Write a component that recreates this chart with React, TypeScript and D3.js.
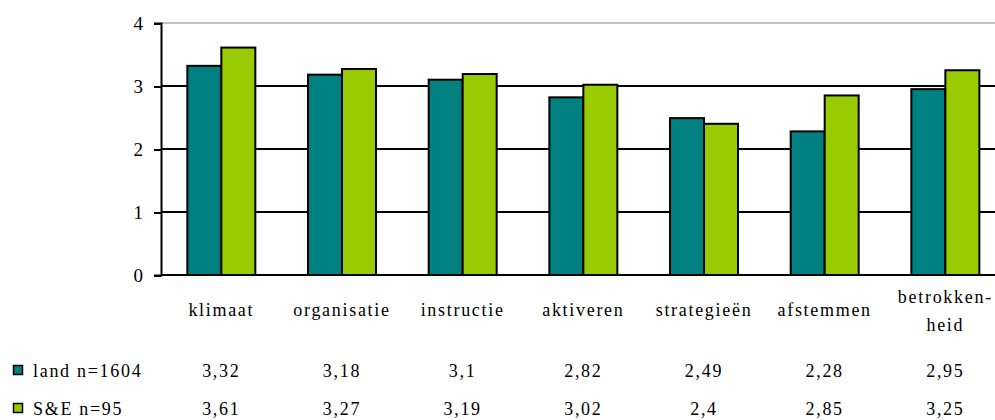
import React, { useEffect, useRef } from 'react';
import * as d3 from 'd3';

const categories = [
  'klimaat',
  'organisatie',
  'instructie',
  'aktiveren',
  'strategieën',
  'afstemmen',
  'betrokken-|heid',
];
const seriesNames = ['land n=1604', 'S&E n=95'];
const landValues = [3.32, 3.18, 3.1, 2.82, 2.49, 2.28, 2.95];
const seValues = [3.61, 3.27, 3.19, 3.02, 2.4, 2.85, 3.25];
const landLabels = ['3,32', '3,18', '3,1', '2,82', '2,49', '2,28', '2,95'];
const seLabels = ['3,61', '3,27', '3,19', '3,02', '2,4', '2,85', '3,25'];
const yTicks = [0, 1, 2, 3, 4];
const colors = ['#008080', '#99cc00'];

const App = () => {
  const ref = useRef<SVGSVGElement>(null);

  useEffect(() => {
    drawChart();
  }, []); // eslint-disable-line react-hooks/exhaustive-deps

  const drawChart = () => {
    const svg = d3.select(ref.current);
    svg.selectAll('*').remove();

    const left = 161;
    const step = 120.67;
    const font = 'Liberation Serif, Times New Roman, serif';

    const x = d3
      .scaleBand()
      .domain(categories)
      .range([left, left + step * categories.length])
      .paddingInner(0.4365)
      .paddingOuter(0.4365 / 2);

    const xInner = d3.scaleBand().domain(['0', '1']).range([0, x.bandwidth()]);

    const y = d3.scaleLinear().domain([0, 4]).range([275, 23]);

    // gridlines
    svg
      .append('g')
      .selectAll('line')
      .data(yTicks.filter((d) => d > 0))
      .enter()
      .append('line')
      .attr('x1', left)
      .attr('x2', 1010)
      .attr('y1', (d) => y(d))
      .attr('y2', (d) => y(d))
      .attr('stroke', (d) => (d === 4 ? '#c0c0c0' : '#000'))
      .attr('stroke-width', 2)
      .attr('shape-rendering', 'crispEdges');

    // bars
    const series = [landValues, seValues];
    series.forEach((vals, s) => {
      svg
        .append('g')
        .selectAll('rect')
        .data(vals)
        .enter()
        .append('rect')
        .attr('x', (d, i) => x(categories[i]) + xInner(String(s)))
        .attr('y', (d) => y(d))
        .attr('width', xInner.bandwidth())
        .attr('height', (d) => y(0) - y(d))
        .attr('fill', colors[s])
        .attr('stroke', '#000')
        .attr('stroke-width', 2);
    });

    // y axis
    const yAxis = svg
      .append('g')
      .attr('transform', `translate(${left},0)`)
      .call(d3.axisLeft(y).tickValues(yTicks).tickSize(7).tickPadding(11).tickFormat(d3.format('d')));
    yAxis.select('.domain').attr('stroke', '#000').attr('stroke-width', 2);
    yAxis
      .selectAll('.tick line')
      .attr('stroke', '#000')
      .attr('stroke-width', 2)
      .attr('shape-rendering', 'crispEdges');
    yAxis
      .selectAll('.tick text')
      .style('font-family', font)
      .attr('font-size', 19)
      .attr('fill', '#000');

    // zero line
    svg
      .append('line')
      .attr('x1', left)
      .attr('x2', 1010)
      .attr('y1', y(0))
      .attr('y2', y(0))
      .attr('stroke', '#000')
      .attr('stroke-width', 2)
      .attr('shape-rendering', 'crispEdges');

    // category labels
    const catText = svg
      .append('g')
      .selectAll('text')
      .data(categories)
      .enter()
      .append('text')
      .attr('x', (d) => x(d) + x.bandwidth() / 2)
      .attr('y', (d) => (d.includes('|') ? 303 : 316))
      .attr('text-anchor', 'middle')
      .style('font-family', font)
      .attr('font-size', 18)
      .attr('letter-spacing', 1.7)
      .attr('fill', '#000');
    catText.each(function (d) {
      const parts = d.split('|');
      const t = d3.select(this);
      parts.forEach((p, i) => {
        t.append('tspan')
          .attr('x', x(d) + x.bandwidth() / 2)
          .attr('dy', i === 0 ? 0 : 28)
          .text(p);
      });
    });

    // data table
    const rows = [landLabels, seLabels];
    const rowY = [377, 415];
    rows.forEach((labels, r) => {
      svg
        .append('rect')
        .attr('x', 13.5)
        .attr('y', rowY[r] - 11.5)
        .attr('width', 9)
        .attr('height', 9)
        .attr('fill', colors[r])
        .attr('stroke', '#000')
        .attr('stroke-width', 1.5);
      svg
        .append('text')
        .attr('x', 33)
        .attr('y', rowY[r])
        .style('font-family', font)
        .attr('font-size', 18)
        .attr('letter-spacing', 1.7)
        .attr('fill', '#000')
        .text(seriesNames[r]);
      svg
        .append('g')
        .selectAll('text')
        .data(labels)
        .enter()
        .append('text')
        .attr('x', (d, i) => x(categories[i]) + x.bandwidth() / 2)
        .attr('y', rowY[r])
        .attr('text-anchor', 'middle')
        .style('font-family', font)
        .attr('font-size', 18)
        .attr('letter-spacing', 1.7)
        .attr('fill', '#000')
        .text((d) => d);
    });
  };

  return (
    <svg
      ref={ref}
      width="995"
      height="420"
      style={{ position: 'absolute', left: 0, top: 0, background: '#fff' }}
    ></svg>
  );
};

export default App;
